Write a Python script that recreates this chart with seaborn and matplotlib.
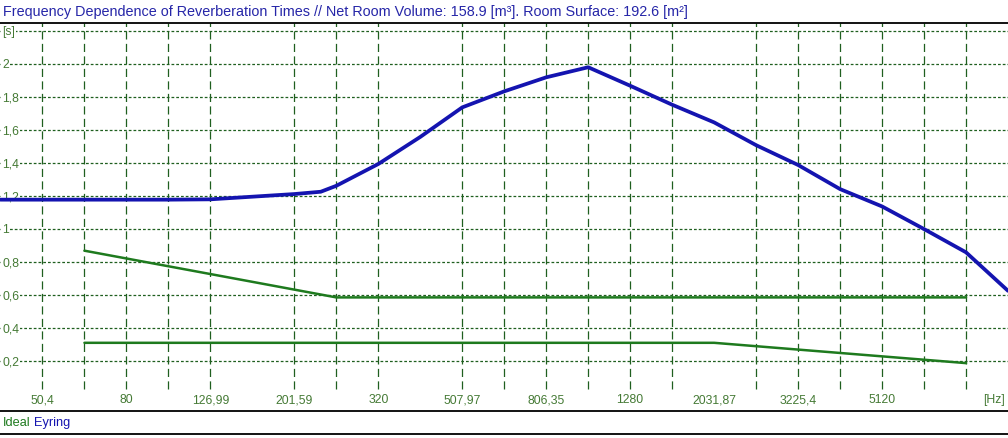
"""Frequency dependence of reverberation times (Eyring vs. ideal band)."""

import matplotlib

matplotlib.use("Agg")
import matplotlib.pyplot as plt
import seaborn as sns
from matplotlib import font_manager
from matplotlib.lines import Line2D
from matplotlib.transforms import blended_transform_factory

# Eyring reverberation time [s]
EYRING_FREQ = [40.0, 50.4, 63.5, 80.0, 100.8, 127.0, 160.0, 201.6, 233.2, 254.0, 320.0,
               403.2, 508.0, 640.0, 806.4, 1016.0, 1280.0, 1612.7, 2031.9, 2560.0, 3225.4,
               4063.7, 5120.0, 6450.8, 8127.5, 10240.0]
EYRING_T = [1.18, 1.18, 1.18, 1.18, 1.18, 1.182, 1.198, 1.214, 1.228, 1.264, 1.396,
            1.56, 1.739, 1.836, 1.921, 1.982, 1.870, 1.755, 1.648, 1.51, 1.39,
            1.244, 1.139, 1.002, 0.861, 0.628]

# ideal tolerance band (upper / lower limit)
IDEAL_UP_FREQ = [63.5, 254.0, 8127.5]
IDEAL_UP_T = [0.871, 0.588, 0.588]
IDEAL_LO_FREQ = [63.5, 2031.9, 8127.5]
IDEAL_LO_T = [0.313, 0.313, 0.19]

# axis furniture
GRID_FREQ = [50.4, 63.5, 80.0, 100.8, 127.0, 201.6, 254.0, 320.0, 508.0, 640.0, 806.4,
             1016.0, 1280.0, 1612.7, 2560.0, 3225.4, 4063.7, 5120.0, 6450.8, 8127.5]
TICK_FREQ = [50.4, 80.0, 127.0, 201.6, 320.0, 508.0, 806.4, 1280.0, 2031.9, 3225.4, 5120.0]
TICK_LABELS = ["50,4", "80", "126,99", "201,59", "320", "507,97", "806,35", "1280",
               "2031,87", "3225,4", "5120"]
Y_GRID = [0.2, 0.4, 0.6, 0.8, 1.0, 1.2, 1.4, 1.6, 1.8, 2.0, 2.2]
Y_LABELS = ["0,2", "0,4", "0,6", "0,8", "1", "1,2", "1,4", "1,6", "1,8", "2", "[s]"]

TITLE = ("Frequency Dependence of Reverberation Times // Net Room Volume: 158.9 [m³]. "
         "Room Surface: 192.6 [m²]")

BLUE = "#1414b0"
GREEN = "#1e7a1e"
GRID_GREEN = "#1f5f1f"
LABEL_GREEN = "#457a35"
TITLE_BLUE = "#2626a8"

W, H = 1008, 439

sns.set_style("white")
names = {f.name for f in font_manager.fontManager.ttflist}
narrow = "Liberation Sans Narrow" in names
family = "Liberation Sans Narrow" if narrow else "Liberation Sans"
plt.rcParams["font.family"] = [family, "DejaVu Sans"]
TITLE_SIZE = 12 if narrow else 10.4
TICK_SIZE = 9.5 if narrow else 8.8
LEGEND_SIZE = 10 if narrow else 9.2

fig = plt.figure(figsize=(W / 100, H / 100), dpi=100)
ax = fig.add_axes([0, (H - 412) / H, 1, (412 - 24) / H])
ax.set_xscale("log", base=2)
ax.set_xlim(39.9, 10240)
ax.set_ylim(-0.1, 2.25)
ax.set_xticks([])
ax.set_xticks([], minor=True)
ax.set_yticks([])
for side in ("left", "right"):
    ax.spines[side].set_visible(False)
for side in ("top", "bottom"):
    ax.spines[side].set_color("black")
    ax.spines[side].set_linewidth(1.3)

# grid
ax.hlines(Y_GRID, 39.9, 10240, colors=GRID_GREEN, linewidth=0.9,
          linestyles=(0, (2.2, 1.6)), zorder=1)
ax.vlines(GRID_FREQ, 0.035, 2.25, colors=GRID_GREEN, linewidth=0.9,
          linestyles=(0, (6.5, 3.5)), zorder=1)

# axis labels drawn inside the plot
yt = blended_transform_factory(ax.transAxes, ax.transData)
for val, lab in zip(Y_GRID, Y_LABELS):
    ax.text(0.002, val, lab, transform=yt, ha="left", va="center", color=LABEL_GREEN,
            fontsize=TICK_SIZE, zorder=2,
            bbox=dict(facecolor="white", edgecolor="none", pad=0.6))
for f, lab in zip(TICK_FREQ, TICK_LABELS):
    ax.text(f, -0.03, lab, ha="center", va="center", color=LABEL_GREEN,
            fontsize=TICK_SIZE, zorder=2)
ax.text(0.997, -0.03, "[Hz]", transform=yt, ha="right", va="center",
        color=LABEL_GREEN, fontsize=TICK_SIZE)

# data
sns.lineplot(x=IDEAL_UP_FREQ, y=IDEAL_UP_T, ax=ax, color=GREEN, linewidth=1.8, zorder=3)
sns.lineplot(x=IDEAL_LO_FREQ, y=IDEAL_LO_T, ax=ax, color=GREEN, linewidth=1.8, zorder=3)
sns.lineplot(x=EYRING_FREQ, y=EYRING_T, ax=ax, color=BLUE, linewidth=2.7, zorder=4)

# title and legend
fig.text(3 / W, 1 - 12 / H, TITLE, ha="left", va="center", color=TITLE_BLUE,
         fontsize=TITLE_SIZE)
t1 = fig.text(3 / W, 1 - 423 / H, "Ideal", ha="left", va="center", color=GREEN,
              fontsize=LEGEND_SIZE)
ax.annotate("Eyring", xy=(1, 0), xycoords=t1, xytext=(2.5, 0),
            textcoords="offset points", ha="left", va="bottom", color=BLUE,
            fontsize=LEGEND_SIZE, annotation_clip=False)
fig.add_artist(Line2D([0, 1], [1 - 435 / H] * 2, color="black", linewidth=1.3))

fig.savefig("out.png", dpi=100, facecolor="white")
plt.close(fig)
